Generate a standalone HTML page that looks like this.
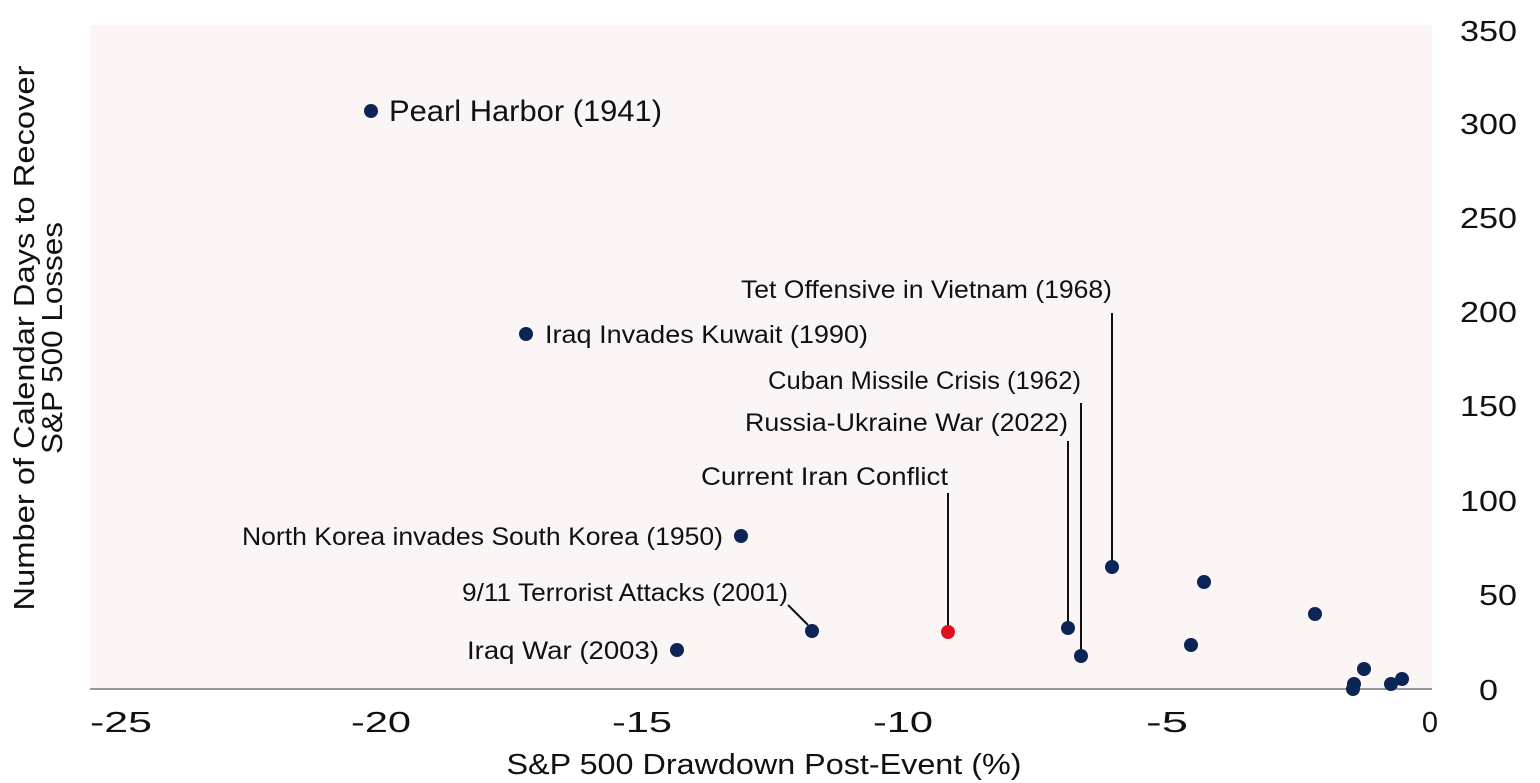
<!DOCTYPE html>
<html><head><meta charset="utf-8"><style>
html,body{margin:0;padding:0;background:#fff;}
svg{display:block;font-family:"Liberation Sans",sans-serif;}
</style></head><body>
<svg width="1540" height="783" viewBox="0 0 1540 783" xmlns="http://www.w3.org/2000/svg">
<rect x="90" y="25" width="1342" height="664" fill="#fcf5f5"/>
<line x1="90" y1="689" x2="1432" y2="689" stroke="#999" stroke-width="2"/>
<g font-size="29" fill="#111" text-anchor="start">
<text x="1460" y="41" textLength="57" lengthAdjust="spacingAndGlyphs">350</text>
<text x="1460" y="134" textLength="57" lengthAdjust="spacingAndGlyphs">300</text>
<text x="1460" y="228" textLength="57" lengthAdjust="spacingAndGlyphs">250</text>
<text x="1460" y="322" textLength="57" lengthAdjust="spacingAndGlyphs">200</text>
<text x="1460" y="416" textLength="57" lengthAdjust="spacingAndGlyphs">150</text>
<text x="1460" y="511" textLength="57" lengthAdjust="spacingAndGlyphs">100</text>
<text x="1479" y="605" textLength="38" lengthAdjust="spacingAndGlyphs">50</text>
<text x="1479" y="700" textLength="19" lengthAdjust="spacingAndGlyphs">0</text>
</g>
<g font-size="29" fill="#111" text-anchor="middle">
<text x="121" y="732" textLength="62" lengthAdjust="spacingAndGlyphs">-25</text>
<text x="381" y="732" textLength="60" lengthAdjust="spacingAndGlyphs">-20</text>
<text x="642" y="732" textLength="60" lengthAdjust="spacingAndGlyphs">-15</text>
<text x="903" y="732" textLength="60" lengthAdjust="spacingAndGlyphs">-10</text>
<text x="1167" y="732" textLength="42" lengthAdjust="spacingAndGlyphs">-5</text>
<text x="1430" y="732">0</text>
<text x="764" y="774" textLength="515" lengthAdjust="spacingAndGlyphs">S&amp;P 500 Drawdown Post-Event (%)</text>
</g>
<g font-size="29" fill="#111" text-anchor="middle">
<text transform="translate(34,338) rotate(-90)" textLength="545" lengthAdjust="spacingAndGlyphs">Number of Calendar Days to Recover</text>
<text transform="translate(62,338) rotate(-90)" textLength="232" lengthAdjust="spacingAndGlyphs">S&amp;P 500 Losses</text>
</g>
<g stroke="#111" stroke-width="2">
<line x1="1112" y1="313" x2="1112" y2="567"/>
<line x1="1081" y1="403" x2="1081" y2="656"/>
<line x1="1068" y1="441" x2="1068" y2="628"/>
<line x1="948" y1="493" x2="948" y2="632"/>
<line x1="788" y1="605" x2="808" y2="625"/>
</g>
<g fill="#0d2456">
<circle cx="371" cy="111" r="7"/><circle cx="526" cy="334" r="7"/>
<circle cx="741" cy="536" r="7"/><circle cx="812" cy="631" r="7"/>
<circle cx="677" cy="650" r="7"/><circle cx="1068" cy="628" r="7"/>
<circle cx="1081" cy="656" r="7"/><circle cx="1112" cy="567" r="7"/>
<circle cx="1204" cy="582" r="7"/><circle cx="1191" cy="645" r="7"/>
<circle cx="1315" cy="614" r="7"/><circle cx="1364" cy="669" r="7"/>
<circle cx="1354" cy="684" r="7"/><circle cx="1353" cy="689" r="7"/>
<circle cx="1391" cy="684" r="7"/><circle cx="1402" cy="679" r="7"/>
</g>
<circle cx="948" cy="632" r="7" fill="#e0101e"/>
<g font-size="25" fill="#111">
<text x="389" y="121" font-size="30" textLength="273" lengthAdjust="spacingAndGlyphs">Pearl Harbor (1941)</text>
<text x="545" y="343" textLength="323" lengthAdjust="spacingAndGlyphs">Iraq Invades Kuwait (1990)</text>
<text x="741" y="298" textLength="371" lengthAdjust="spacingAndGlyphs">Tet Offensive in Vietnam (1968)</text>
<text x="768" y="389" textLength="313" lengthAdjust="spacingAndGlyphs">Cuban Missile Crisis (1962)</text>
<text x="745" y="431" textLength="323" lengthAdjust="spacingAndGlyphs">Russia-Ukraine War (2022)</text>
<text x="701" y="485" textLength="247" lengthAdjust="spacingAndGlyphs">Current Iran Conflict</text>
<text x="242" y="545" textLength="481" lengthAdjust="spacingAndGlyphs">North Korea invades South Korea (1950)</text>
<text x="462" y="601" textLength="326" lengthAdjust="spacingAndGlyphs">9/11 Terrorist Attacks (2001)</text>
<text x="467" y="659" textLength="192" lengthAdjust="spacingAndGlyphs">Iraq War (2003)</text>
</g>
</svg>
</body></html>
